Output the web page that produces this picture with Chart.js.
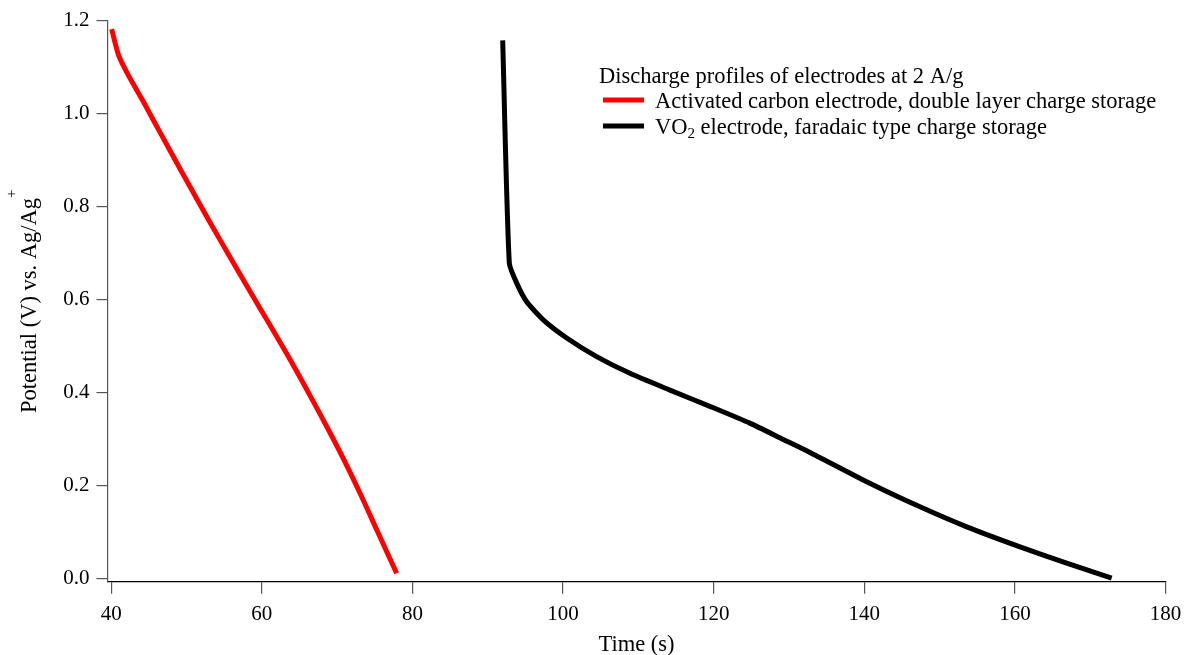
<!DOCTYPE html>
<html>
<head>
<meta charset="utf-8">
<script src="https://cdn.jsdelivr.net/npm/chart.js@4.4.1/dist/chart.umd.min.js"></script>
<style>
  html, body { margin: 0; padding: 0; background: #fff; }
  #wrap { width: 1191px; height: 655px; }
</style>
</head>
<body>
<div id="wrap"><canvas id="grafico"></canvas></div>
<script>
// descarga do carbono ativado
const carbonTime = [40.05, 41.0, 42.1, 43.0, 44.2, 45.2, 47.8, 50.5, 53.1, 55.8, 58.4, 60.7, 63.8, 66.4, 68.7, 70.9, 73.1, 75.3, 77.9];
const carbonPot = [1.182, 1.125, 1.088, 1.062, 1.028, 0.998, 0.921, 0.842, 0.767, 0.691, 0.619, 0.556, 0.470, 0.394, 0.325, 0.256, 0.182, 0.104, 0.012];

// descarga do VO2
const vo2Time = [91.98, 92.86, 93.84, 95.17, 97.37, 100.48, 104.46, 108.88, 114.19, 119.5, 124.8, 129.24, 132.79, 140.32, 147.4, 153.6, 160.68, 166.88, 172.85];
const vo2Pot = [1.158, 0.679, 0.636, 0.596, 0.557, 0.518, 0.478, 0.442, 0.406, 0.371, 0.335, 0.300, 0.272, 0.209, 0.155, 0.112, 0.069, 0.034, 0.0015];

const xTicks = [40, 60, 80, 100, 120, 140, 160, 180];
const yTicks = [0, 0.2, 0.4, 0.6, 0.8, 1.0, 1.2];

const seriesLabels = ['Activated carbon electrode, double layer charge storage', 'VO₂ electrode, faradaic type charge storage'];
const seriesColors = ['#ff0000', '#000000'];
const legendTitle = 'Discharge profiles of electrodes at 2 A/g';
const xTitle = 'Time (s)';
const yTitle = 'Potential (V) vs. Ag/Ag⁺';

const FAMILY = '"Liberation Serif", "Times New Roman", serif';
const TICK_SIZE = 21;
const TEXT_SIZE = 22.5;

/*------------------------------------------texto com sub/sobrescrito----------------------------------------------*/
const SUB = { '₂': '2' };
const SUP = { '⁺': '+' };

function runs(text) {
    const out = [];
    for (const ch of text) {
        const kind = SUB[ch] ? 'sub' : (SUP[ch] ? 'sup' : 'n');
        const c = SUB[ch] || SUP[ch] || ch;
        const last = out[out.length - 1];
        if (last && last.kind === kind) last.t += c;
        else out.push({ kind: kind, t: c });
    }
    return out;
}

function drawRich(ctx, text, x, y, size, dry) {
    for (const r of runs(text)) {
        const s = r.kind === 'n' ? size : Math.round(size * 0.68);
        ctx.font = s + 'px ' + FAMILY;
        const dy = r.kind === 'sub' ? size * 0.22 : (r.kind === 'sup' ? -size * 0.85 : 0);
        if (!dry) ctx.fillText(r.t, x, y + dy);
        x += ctx.measureText(r.t).width;
    }
    return x;
}

const legendBox = {
    id: 'legendBox',
    afterDraw(chart) {
        const ctx = chart.ctx;
        const area = chart.chartArea;
        ctx.save();
        ctx.fillStyle = '#000';
        ctx.textBaseline = 'alphabetic';
        ctx.textAlign = 'left';

        drawRich(ctx, legendTitle, 599, 83, TEXT_SIZE);
        chart.data.datasets.forEach((ds, i) => {
            const y = 100 + i * 26;
            ctx.strokeStyle = ds.borderColor;
            ctx.lineWidth = 5;
            ctx.beginPath();
            ctx.moveTo(603, y);
            ctx.lineTo(644, y);
            ctx.stroke();
            drawRich(ctx, ds.label, 655, y + 7.5, TEXT_SIZE);
        });

        // titulo do eixo y
        ctx.translate(35.5, (area.top + area.bottom) / 2);
        ctx.rotate(-Math.PI / 2);
        const w = drawRich(ctx, yTitle, 0, 0, TEXT_SIZE, true);
        drawRich(ctx, yTitle, -w / 2, 0, TEXT_SIZE);
        ctx.restore();
    }
};

/*------------------------------------------Gráfico----------------------------------------------*/
const pts = (xs, ys) => xs.map((x, i) => ({ x: x, y: ys[i] }));

let ctx = document.getElementById('grafico').getContext('2d');
let grafico = new Chart(ctx, {
    type: 'scatter',
    data: {
        datasets: [{
            label: seriesLabels[0],
            data: pts(carbonTime, carbonPot),
            borderColor: seriesColors[0],
            backgroundColor: seriesColors[0],
            borderWidth: 5,
            showLine: true,
            pointRadius: 0,
            tension: 0.3
        }, {
            label: seriesLabels[1],
            data: pts(vo2Time, vo2Pot),
            borderColor: seriesColors[1],
            backgroundColor: seriesColors[1],
            borderWidth: 5,
            showLine: true,
            pointRadius: 0,
            tension: 0.2
        }]
    },
    options: {
        responsive: true,
        maintainAspectRatio: false,
        animation: false,
        layout: { padding: { top: 20.8, right: 25.5, left: 0, bottom: 0 } },
        plugins: {
            legend: { display: false },
            tooltip: { enabled: false }
        },
        scales: {
            x: {
                type: 'linear',
                min: 39.5,
                max: 180,
                afterBuildTicks: s => { s.ticks = xTicks.map(v => ({ value: v })); },
                afterFit: s => { s.height = 73.3; },
                ticks: {
                    font: { family: FAMILY, size: TICK_SIZE },
                    color: '#000',
                    padding: 8,
                    maxRotation: 0,
                    autoSkip: false
                },
                grid: { drawOnChartArea: false, drawTicks: true, tickLength: 12, color: '#555', lineWidth: 1.2 },
                border: { display: true, color: '#000', width: 1.2 },
                title: {
                    display: true,
                    text: xTitle,
                    color: '#000',
                    font: { family: FAMILY, size: TEXT_SIZE, lineHeight: 0.9 },
                    padding: 0
                }
            },
            y: {
                min: -0.006,
                max: 1.2,
                afterBuildTicks: s => { s.ticks = yTicks.map(v => ({ value: v })); },
                afterFit: s => { s.width = 107.5; },
                ticks: {
                    font: { family: FAMILY, size: TICK_SIZE },
                    color: '#000',
                    padding: 7,
                    callback: v => v.toFixed(1)
                },
                grid: { drawOnChartArea: false, drawTicks: true, tickLength: 11, color: '#555', lineWidth: 1.2 },
                border: { display: true, color: '#555', width: 1.2 }
            }
        }
    },
    plugins: [legendBox]
});
</script>
</body>
</html>
